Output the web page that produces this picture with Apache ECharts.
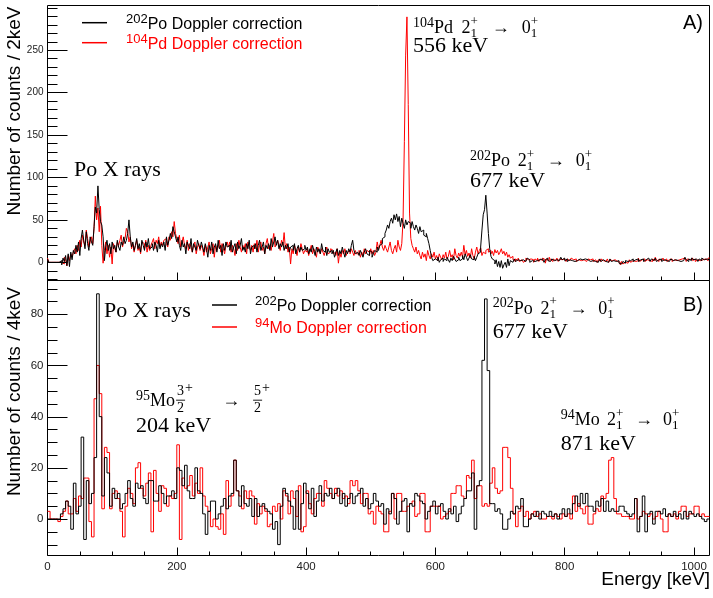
<!DOCTYPE html>
<html>
<head>
<meta charset="utf-8">
<script src="https://cdn.jsdelivr.net/npm/echarts@6/dist/echarts.min.js"></script>
<style>
  html, body { margin: 0; padding: 0; background: #fff; }
  #main { width: 713px; height: 598px; }
</style>
</head>
<body>
<div id="main"></div>
<script>
// Gamma-ray energy spectra, 0-1024 keV.
// Top panel: 2 keV bins, bottom panel: 4 keV bins. Values are counts per bin (low edge = index * width).
const binWidthA = 2;
const binWidthB = 4;
const energyMax = 1024;

// Top panel, 202Po Doppler correction (2 keV bins)
const poA = [
  4,0,0,0,0,0,0,0,0,0,2,-3,5,1,8,-4,10,-5,12,3,
  14,10,20,12,24,8,28,38,26,16,36,22,14,30,24,20,42,65,58,90,
  62,48,44,30,2,18,26,14,22,10,24,16,20,12,26,18,14,24,20,30,
  22,26,34,50,30,18,24,14,20,28,16,22,12,26,20,14,24,18,28,16,
  18,22,14,24,20,12,26,16,22,18,24,14,30,20,26,34,28,42,36,30,
  24,30,20,14,26,18,22,10,24,20,16,28,12,22,18,14,26,20,16,24,
  18,12,22,16,6,20,14,24,10,18,22,12,26,16,20,8,22,14,24,18,
  20,14,26,12,18,22,10,24,16,20,28,14,18,12,22,16,26,10,18,20,
  16,22,12,20,26,14,18,24,10,20,16,22,14,28,18,24,30,20,26,16,
  22,18,24,14,20,16,22,12,18,20,14,22,10,16,20,12,18,14,16,20,
  14,18,10,16,12,20,14,8,18,12,16,10,22,14,12,18,8,16,12,14,
  10,14,6,12,16,8,14,10,18,12,6,14,10,16,12,20,26,14,10,12,
  12,8,14,10,6,12,16,10,8,14,12,6,10,14,12,18,14,20,22,28,
  30,34,38,44,40,48,52,46,56,50,57,48,54,42,52,46,40,50,44,48,
  46,40,48,42,38,44,40,34,42,36,38,32,30,34,28,22,14,6,2,4,
  4,2,6,0,3,5,1,4,2,6,3,0,5,2,7,4,1,3,6,2,
  4,8,3,10,6,2,5,9,4,3,7,2,6,10,12,18,38,56,62,79,
  58,34,16,7,4,2,-2,3,-5,1,-6,2,-7,-3,0,-6,4,-4,2,0,
  2,4,1,3,5,2,0,3,4,1,2,5,3,0,2,4,1,3,2,4,
  3,1,4,2,0,3,5,2,1,3,4,2,0,3,1,2,4,6,3,5,
  2,4,1,3,5,2,4,1,3,2,0,4,2,3,1,4,2,3,5,1,
  3,2,4,1,3,0,2,4,1,3,2,1,3,0,2,4,1,2,3,1,
  0,2,-1,-2,0,1,-1,2,1,3,2,0,4,1,3,2,4,1,3,2,
  4,1,3,2,5,3,1,4,2,3,5,1,3,2,4,1,3,5,2,3,
  1,3,4,2,0,3,5,2,4,1,3,2,4,6,3,1,4,2,5,3,
  2,4,3,1,4,2,5,3,1,4,2,3
];

// Top panel, 104Pd Doppler correction (2 keV bins)
const pdA = [
  5,0,0,0,0,0,0,0,0,0,0,2,-2,6,3,-4,8,2,10,6,
  12,16,10,20,14,26,18,32,24,20,38,28,18,24,30,22,40,78,50,64,
  36,66,20,-1,14,24,10,20,6,18,-2,22,16,12,24,20,26,32,18,24,
  28,40,36,24,30,16,22,12,20,26,14,18,10,24,22,16,26,12,20,14,
  20,24,28,16,26,22,30,18,24,20,26,28,22,18,30,26,36,30,48,34,
  28,22,32,18,24,30,20,16,26,14,22,18,12,20,24,10,18,22,14,20,
  16,8,20,12,18,24,10,16,22,6,20,14,18,26,12,22,16,10,20,24,
  18,24,12,20,16,8,22,14,26,18,12,20,16,22,10,24,18,14,20,12,
  22,16,26,12,20,24,14,18,10,22,28,16,20,14,24,34,18,22,26,20,
  14,26,20,35,16,22,12,18,-2,16,10,20,14,8,18,12,22,16,10,14,
  12,16,8,14,20,10,16,12,6,18,14,10,16,12,8,14,18,10,12,16,
  14,10,12,8,16,-1,12,6,14,10,16,8,12,14,10,16,12,8,14,10,
  10,14,6,12,8,16,10,14,12,8,16,10,14,8,12,24,16,20,26,18,
  14,20,16,12,18,24,14,10,16,20,12,26,18,14,22,50,142,244,289,186,
  58,28,20,16,12,18,10,14,8,4,12,6,10,2,14,8,4,10,6,12,
  4,8,2,10,6,3,9,5,12,4,7,14,6,9,3,16,8,5,11,7,
  12,6,20,9,14,7,11,5,16,8,4,12,18,10,14,17,8,12,10,14,
  16,12,14,10,13,8,15,11,14,9,12,16,10,13,8,12,6,9,5,7,
  3,1,4,2,5,1,3,4,0,2,5,3,1,4,2,3,0,4,2,5,
  1,4,2,5,3,-1,4,2,6,3,1,4,2,3,5,1,4,3,2,4,
  3,1,4,2,0,5,3,2,4,1,3,5,2,0,3,4,1,2,4,3,
  2,4,1,3,2,0,3,1,4,2,3,1,2,4,0,3,2,1,3,2,
  1,-1,0,-3,1,-2,0,2,-1,1,3,0,2,4,1,3,2,5,1,3,
  2,4,1,3,5,2,3,1,4,2,6,3,1,4,2,3,5,2,4,1,
  3,2,4,1,3,5,2,4,3,1,4,2,5,3,1,4,3,2,5,2,
  4,1,3,5,2,4,3,1,4,3,2,5
];

// Bottom panel, 202Po Doppler correction (4 keV bins)
const poB = [
  0,0,0,0,0,2,4,7,5,-4,14,2,5,32,-8,15,6,10,24,88,
  40,9,24,18,5,12,8,10,4,6,10,15,8,5,14,12,13,8,6,15,
  15,7,7,13,10,6,9,9,11,8,20,19,13,21,11,8,8,20,11,10,
  2,-6,3,7,7,0,2,5,8,4,9,10,23,11,5,13,6,5,8,1,
  8,1,5,6,4,3,2,-4,-1,-10,5,12,10,7,5,-4,11,-4,6,14,
  10,4,12,1,7,13,7,10,9,12,8,10,12,6,10,5,8,10,6,9,
  10,12,5,8,4,6,10,7,5,6,-2,4,2,10,8,-2,3,7,8,-5,
  6,5,10,9,7,6,0,3,5,7,2,5,6,3,0,4,2,5,-1,2,
  5,8,11,11,18,-4,13,15,62,86,58,6,6,3,4,2,-4,-4,0,3,
  2,5,4,8,-3,-3,0,2,1,3,0,3,2,1,3,1,2,0,2,4,
  1,4,2,6,9,5,10,6,10,5,5,3,7,5,8,3,7,3,4,3,
  3,5,5,3,2,1,2,8,-5,1,9,-5,2,3,-2,3,3,2,4,1,
  2,1,3,1,2,0,3,0,3,2,1,2,1,0,-1,0
];

// Bottom panel, 94Mo Doppler correction (4 keV bins)
const moB = [
  3,0,0,0,-1,1,3,7,2,2,8,3,9,8,16,16,-1,-7,47,60,
  49,4,28,26,4,10,11,8,3,-7,5,12,10,6,20,22,12,9,14,18,
  -5,19,10,3,13,12,5,9,8,10,29,-8,16,12,13,17,9,14,10,20,
  9,5,3,-3,0,-3,-4,2,-6,15,5,9,23,11,9,4,11,8,11,9,
  -2,6,2,5,3,-3,-2,5,3,6,0,11,9,2,11,8,1,13,-5,-3,
  11,6,2,8,10,10,5,15,12,10,8,12,9,11,8,9,6,15,13,15,
  11,6,10,10,2,3,-2,5,3,2,-5,-5,3,10,0,10,10,3,3,5,
  6,7,1,2,10,10,-5,-5,5,5,5,5,0,1,2,3,10,10,13,13,
  9,8,17,16,23,8,13,13,5,6,5,14,20,12,10,11,28,28,24,12,
  2,-3,3,5,1,3,0,2,3,1,2,0,0,1,1,0,2,1,0,2,
  1,2,0,9,3,6,4,2,5,-2,-2,2,4,3,9,8,10,23,24,8,
  2,2,1,1,1,0,0,8,0,1,3,2,1,2,0,1,3,0,-5,-5,
  2,1,2,0,3,5,5,1,2,2,5,5,1,2,1,1
];

// Axis ticks
const xMajor = [0, 200, 400, 600, 800, 1000];
const xMinor = [50, 100, 150, 250, 300, 350, 450, 500, 550, 650, 700, 750, 850, 900, 950];
const yMajorA = [0, 50, 100, 150, 200, 250];
const yMinorA = [-20, -10, 10, 20, 30, 40, 60, 70, 80, 90, 110, 120, 130, 140, 160, 170, 180, 190,
                 210, 220, 230, 240, 260, 270, 280, 290, 300];
const yMajorB = [0, 20, 40, 60, 80];
const yMinorB = [-10, -5, 5, 10, 15, 25, 30, 35, 45, 50, 55, 65, 70, 75, 85, 90];
const yRangeA = [-21.4, 302.4];
const yRangeB = [-14.26, 93.2];

const SANS = '"Liberation Sans", Arial, Helvetica, sans-serif';
const SERIF = '"Liberation Serif", "Times New Roman", serif';
const BLACK = '#000000';
const RED = '#ff0000';

// Histogram outline: one point per bin low edge plus the closing upper edge
function histogram(vals, width) {
  const pts = vals.map((v, i) => [i * width, v]);
  pts.push([vals.length * width, vals[vals.length - 1]]);
  return pts;
}

const gridA = { left: 47.5, width: 662, top: 5.5, height: 275 };
const gridB = { left: 47.5, width: 662, top: 280.5, height: 275 };

function gridOf(box, framed) {
  return Object.assign({ show: framed, borderColor: '#000', borderWidth: 1, containLabel: false }, box);
}

const plainNumber = v => String(v);

function xAxisOf(gridIndex, ticks, len, labels) {
  return {
    type: 'value', gridIndex, min: 0, max: energyMax, position: 'bottom',
    axisLine: { show: false, onZero: false }, splitLine: { show: false },
    axisTick: { show: true, inside: true, length: len, customValues: ticks, lineStyle: { color: '#000', width: 1 } },
    axisLabel: labels ? { show: true, customValues: ticks, formatter: plainNumber, fontFamily: SANS, fontSize: 11.5, color: '#222', margin: 5 } : { show: false }
  };
}

function yAxisOf(gridIndex, range, ticks, labelSize) {
  return {
    type: 'value', gridIndex, min: range[0], max: range[1], position: 'left',
    axisLine: { show: false, onZero: false }, splitLine: { show: false },
    axisTick: { show: false },
    axisLabel: labelSize ? { show: true, customValues: ticks, formatter: plainNumber, fontFamily: SANS, fontSize: labelSize, color: '#222', margin: 4 } : { show: false }
  };
}

function histSeries(name, vals, width, axis, color) {
  return {
    name, type: 'line', step: 'end', xAxisIndex: axis, yAxisIndex: axis,
    data: histogram(vals, width), symbol: 'none', showSymbol: false,
    lineStyle: { color, width: 1 }, itemStyle: { color }, animation: false, z: color === BLACK ? 3 : 2
  };
}

// Legend labels with superscript mass numbers
const legendLabels = {
  poA: '{gap|}{sup|202}{main|Po Doppler correction}',
  pdA: '{gap|}{sup|104}{main|Pd Doppler correction}',
  poB: '{gap|}{sup|202}{main|Po Doppler correction}',
  moB: '{gap|}{sup|94}{main|Mo Doppler correction}'
};

function legendOf(names, colors, left, top, gap, indent) {
  return {
    orient: 'vertical', left, top, padding: 0, itemGap: gap,
    icon: 'rect', itemWidth: 25, itemHeight: 1.5, selectedMode: false,
    data: names.map((n, i) => ({ name: n, textStyle: { color: colors[i] } })),
    formatter: n => legendLabels[n],
    textStyle: {
      fontFamily: SANS,
      rich: {
        gap: { width: indent, height: 1 },
        sup: { fontFamily: SANS, fontSize: 13, lineHeight: 12, verticalAlign: 'top' },
        main: { fontFamily: SANS, fontSize: 16, lineHeight: 20, verticalAlign: 'bottom' }
      }
    }
  };
}

// Small layout helper for the LaTeX-style annotations
const measureCtx = document.createElement('canvas').getContext('2d');
function textWidth(t, size, family) {
  measureCtx.font = size + 'px ' + (family || SERIF);
  return measureCtx.measureText(t).width;
}
function glyph(t, x, base, size, align) {
  return {
    type: 'text', x, y: base - 0.3375 * size, silent: true, z: 50,
    style: { text: t, font: size + 'px ' + SERIF, fill: '#000', align: align || 'left', verticalAlign: 'middle' }
  };
}
function formula(x0, base, width, parts) {
  const out = [];
  const pieceWidth = p => {
    if (p.up !== undefined) return Math.max(textWidth(p.up, p.s), textWidth(p.down, p.s));
    if (p.frac) return Math.max(textWidth(p.frac[0], p.s), textWidth(p.frac[1], p.s)) + 2;
    return textWidth(p.t, p.s);
  };
  let fixed = 0, wsum = 0;
  parts.forEach(p => { if (p.g !== undefined) wsum += p.g; else fixed += pieceWidth(p); });
  const unit = wsum > 0 ? Math.max(0, width - fixed) / wsum : 0;
  let x = x0;
  parts.forEach(p => {
    if (p.g !== undefined) { x += p.g * unit; return; }
    const w = pieceWidth(p);
    if (p.up !== undefined) {
      out.push(glyph(p.up, x, base - 9, p.s));
      out.push(glyph(p.down, x, base + 3.5, p.s));
    } else if (p.frac) {
      out.push(glyph(p.frac[0], x + w / 2, base - 11.7, p.s, 'center'));
      out.push(glyph(p.frac[1], x + w / 2, base + 5.6, p.s, 'center'));
      out.push({ type: 'line', silent: true, z: 50, shape: { x1: x, y1: base - 7.5, x2: x + w, y2: base - 7.5 },
                 style: { stroke: '#000', lineWidth: 0.9 } });
    } else {
      out.push(glyph(p.t, x, base + (p.dy || 0), p.s));
    }
    x += w;
  });
  return out;
}
function transition(mass, element) {
  return [
    { t: mass, s: 14, dy: -6.5 }, { t: element, s: 18 }, { g: 5 },
    { t: '2', s: 18 }, { up: '+', down: '1', s: 13 }, { g: 8 },
    { t: '\u2192', s: 18 }, { g: 7 },
    { t: '0', s: 18 }, { up: '+', down: '1', s: 13 }
  ];
}
const mo95Line = [
  { t: '95', s: 14, dy: -6.5 }, { t: 'Mo', s: 18 }, { g: 1 },
  { frac: ['3', '2'], s: 14 }, { t: '+', s: 14, dy: -14.5 }, { g: 27 },
  { t: '\u2192', s: 18 }, { g: 12 },
  { frac: ['5', '2'], s: 14 }, { t: '+', s: 14, dy: -14.5 }
];

function sansText(t, x, y, size, align, rotation) {
  return {
    type: 'text', x, y, rotation: rotation || 0, silent: true, z: 50,
    style: { text: t, font: size + 'px ' + SANS, fill: '#000', align, verticalAlign: 'middle' }
  };
}

const annotations = [].concat(
  [glyph('Po X rays', 74, 178, 22)],
  formula(413, 34.5, 125, transition('104', 'Pd')),
  [glyph('556 keV', 413, 53.3, 22)],
  formula(470, 167.5, 122, transition('202', 'Po')),
  [glyph('677 keV', 470, 189, 22)],
  [glyph('Po X rays', 104, 318.5, 22)],
  formula(136, 407.7, 134, mo95Line),
  [glyph('204 keV', 136, 433.3, 22)],
  formula(492.7, 315, 122, transition('202', 'Po')),
  [glyph('677 keV', 492.7, 340, 22)],
  formula(560.7, 426.7, 118.7, transition('94', 'Mo')),
  [glyph('871 keV', 560.7, 451.7, 22)],
  [
    sansText('A)', 703, 23.6, 20, 'right'),
    sansText('B)', 703, 305, 20, 'right'),
    sansText('Number of counts / 2keV', 14.5, 6.5, 19, 'right', Math.PI / 2),
    sansText('Number of counts / 4keV', 14.5, 287, 19, 'right', Math.PI / 2),
    sansText('Energy [keV]', 710, 580, 19, 'right')
  ]
);

const chart = echarts.init(document.getElementById('main'), null, { renderer: 'canvas' });
chart.setOption({
  animation: false,
  backgroundColor: '#ffffff',
  grid: [gridOf(gridA, true), gridOf(gridB, true), gridOf(gridA, false), gridOf(gridB, false)],
  xAxis: [
    xAxisOf(0, xMajor, 8, false),
    xAxisOf(1, xMajor, 8, true),
    xAxisOf(2, xMinor, 4, false),
    xAxisOf(3, xMinor, 4, false)
  ],
  yAxis: [
    yAxisOf(0, yRangeA, yMajorA, 10),
    yAxisOf(1, yRangeB, yMajorB, 11.5),
    yAxisOf(2, yRangeA, yMinorA, 0),
    yAxisOf(3, yRangeB, yMinorB, 0)
  ],
  legend: [
    legendOf(['poA', 'pdA'], [BLACK, RED], 82, 12.7, 0, 14),
    legendOf(['poB', 'moB'], [BLACK, RED], 212, 295, 2, 13)
  ],
  series: [
    histSeries('pdA', pdA, binWidthA, 0, RED),
    histSeries('poA', poA, binWidthA, 0, BLACK),
    histSeries('moB', moB, binWidthB, 1, RED),
    histSeries('poB', poB, binWidthB, 1, BLACK)
  ]
});

// Inward tick marks on the left frame edge, positioned through each panel's value scale
const tickMarks = [];
function addYTicks(gridIndex, ticks, len) {
  ticks.forEach(v => {
    const p = chart.convertToPixel({ gridIndex }, [0, v]);
    const y = Math.round(p[1]) + 0.5;
    tickMarks.push({ type: 'line', silent: true, z: 100,
      shape: { x1: p[0], y1: y, x2: p[0] + len, y2: y }, style: { stroke: '#000', lineWidth: 1 } });
  });
}
addYTicks(0, yMajorA, 20);
addYTicks(0, yMinorA, 10);
addYTicks(1, yMajorB, 20);
addYTicks(1, yMinorB, 10);

chart.setOption({ graphic: { elements: annotations.concat(tickMarks) } });
</script>
</body>
</html>
